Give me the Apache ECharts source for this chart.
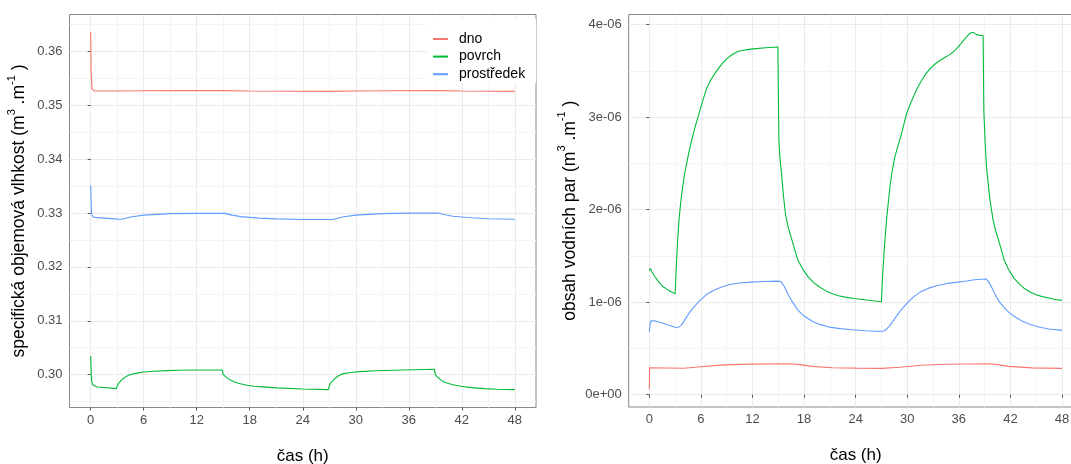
<!DOCTYPE html>
<html><head><meta charset="utf-8">
<script src="https://cdn.jsdelivr.net/npm/echarts@6/dist/echarts.min.js"></script>
<style>html,body{margin:0;padding:0;background:#fff}#c{width:1071px;height:464px}</style>
</head><body><div id="c"></div>
<script>
// ---- data ----
const seriesNames = ['dno', 'povrch', 'prostředek'];
const xTicks = [0, 6, 12, 18, 24, 30, 36, 42, 48];
const xMinor = [3, 9, 15, 21, 27, 33, 39, 45];
const leftYTicks = [0.30, 0.31, 0.32, 0.33, 0.34, 0.35, 0.36];
const leftYMinor = [0.295, 0.305, 0.315, 0.325, 0.335, 0.345, 0.355, 0.365];
const rightYTicks = [0, 1e-6, 2e-6, 3e-6, 4e-6];
const rightYMinor = [0.5e-6, 1.5e-6, 2.5e-6, 3.5e-6];

// specifická objemová vlhkost [čas h, m3/m3]
const vlhkostDno = [[0,0.3635],[0.05,0.3560],[0.15,0.3530],[0.4,0.35262],[3,0.35262],[6,0.35266],[10,0.35270],[15,0.35270],[18,0.35262],[22,0.35258],[27,0.35256],[30,0.35262],[34,0.35268],[39,0.35270],[42,0.35262],[45,0.35258],[48,0.35256]];
const vlhkostPovrch = [[0,0.30347],[0.05,0.3005],[0.1,0.2990],[0.2,0.2982],[0.35,0.29785],[0.7,0.29772],[1.5,0.29762],[2.9,0.29742],[3.0,0.29790],[3.15,0.29840],[3.3,0.29870],[3.6,0.29920],[4.0,0.29965],[4.5,0.30002],[5.2,0.30030],[6,0.30050],[7.2,0.30065],[8.6,0.30076],[10,0.30083],[11.6,0.30087],[14.9,0.30088],[15.0,0.30000],[15.2,0.29968],[15.4,0.29945],[15.8,0.29900],[16.2,0.29870],[16.7,0.29840],[17.7,0.29803],[18.5,0.29787],[19.5,0.29775],[21.1,0.29755],[24,0.29735],[26.9,0.29723],[27.0,0.29790],[27.15,0.29845],[27.3,0.29880],[27.7,0.29940],[28.1,0.29985],[28.6,0.30020],[29.4,0.30042],[30.5,0.30057],[32.2,0.30072],[34.3,0.30082],[36.5,0.30092],[38.9,0.30100],[39.0,0.30000],[39.2,0.29962],[39.4,0.29930],[39.7,0.29895],[40,0.29865],[40.5,0.29838],[41,0.29815],[41.9,0.29785],[43,0.29760],[44.5,0.29742],[46,0.29730],[48,0.29723]];
const vlhkostProstredek = [[0,0.33508],[0.08,0.3300],[0.25,0.32925],[0.6,0.32918],[3,0.32885],[3.5,0.32884],[4.5,0.32925],[6,0.32960],[9,0.32988],[12,0.32993],[15.2,0.32993],[16,0.32960],[17,0.32932],[19,0.32905],[21,0.32890],[24,0.32880],[27,0.32878],[27.5,0.32882],[28.5,0.32925],[30,0.32960],[33,0.32988],[36,0.32998],[39.3,0.33000],[40,0.32972],[41,0.32940],[43,0.32910],[45,0.32893],[48,0.32883]];

// obsah vodních par [čas h, m3/m3]
const parDno = [[0,0.06e-6],[0.03,0.292e-6],[2,0.289e-6],[4,0.286e-6],[6,0.302e-6],[8.6,0.322e-6],[11.8,0.331e-6],[16.5,0.335e-6],[17.5,0.325e-6],[18.9,0.306e-6],[21.3,0.292e-6],[24,0.287e-6],[27,0.285e-6],[29.1,0.297e-6],[31.5,0.318e-6],[34.7,0.330e-6],[39.4,0.335e-6],[40.5,0.325e-6],[41.8,0.306e-6],[44.5,0.290e-6],[48,0.285e-6]];
const parPovrch = [[0,1.34e-6],[0.1,1.365e-6],[0.3,1.33e-6],[0.6,1.28e-6],[1.0,1.23e-6],[1.5,1.175e-6],[2.2,1.13e-6],[2.6,1.11e-6],[3.0,1.09e-6],[3.15,1.40e-6],[3.3,1.68e-6],[3.45,1.89e-6],[3.65,2.08e-6],[3.9,2.26e-6],[4.1,2.39e-6],[4.34,2.50e-6],[4.6,2.62e-6],[4.92,2.75e-6],[5.4,2.92e-6],[5.88,3.07e-6],[6.25,3.19e-6],[6.66,3.31e-6],[7.2,3.41e-6],[7.83,3.50e-6],[8.4,3.57e-6],[8.99,3.63e-6],[9.6,3.675e-6],[10.34,3.712e-6],[11.2,3.727e-6],[12.08,3.738e-6],[13.5,3.75e-6],[14.95,3.759e-6],[15.07,2.75e-6],[15.2,2.55e-6],[15.38,2.39e-6],[15.6,2.15e-6],[15.84,1.95e-6],[16.15,1.81e-6],[16.5,1.70e-6],[16.9,1.57e-6],[17.3,1.45e-6],[17.9,1.35e-6],[18.5,1.271e-6],[19.1,1.215e-6],[19.7,1.17e-6],[20.5,1.125e-6],[21.3,1.091e-6],[22.0,1.07e-6],[22.8,1.055e-6],[23.8,1.04e-6],[24.8,1.03e-6],[26,1.015e-6],[27,1.005e-6],[27.15,1.31e-6],[27.35,1.6e-6],[27.59,1.886e-6],[27.98,2.245e-6],[28.25,2.42e-6],[28.56,2.568e-6],[28.95,2.70e-6],[29.34,2.821e-6],[29.92,3.037e-6],[30.3,3.13e-6],[30.69,3.216e-6],[31.15,3.31e-6],[31.66,3.396e-6],[32.1,3.46e-6],[32.63,3.522e-6],[33.2,3.572e-6],[33.79,3.612e-6],[34.4,3.647e-6],[34.95,3.676e-6],[35.35,3.705e-6],[35.73,3.738e-6],[36.2,3.79e-6],[36.7,3.846e-6],[37.28,3.906e-6],[37.67,3.917e-6],[38.06,3.892e-6],[38.83,3.881e-6],[38.91,3.072e-6],[39.05,2.75e-6],[39.22,2.46e-6],[39.6,2.12e-6],[39.99,1.886e-6],[40.3,1.77e-6],[40.6,1.68e-6],[41.0,1.55e-6],[41.3,1.45e-6],[41.8,1.35e-6],[42.4,1.26e-6],[43.0,1.20e-6],[43.6,1.15e-6],[44.3,1.11e-6],[45,1.08e-6],[45.7,1.06e-6],[46.5,1.045e-6],[47.2,1.03e-6],[48,1.02e-6]];
const parProstredek = [[0,0.677e-6],[0.1,0.77e-6],[0.2,0.80e-6],[0.35,0.805e-6],[0.8,0.795e-6],[1.5,0.775e-6],[2.3,0.75e-6],[3.1,0.726e-6],[3.4,0.73e-6],[3.7,0.75e-6],[4.2,0.82e-6],[4.7,0.893e-6],[5.3,0.96e-6],[5.9,1.019e-6],[6.6,1.08e-6],[7.45,1.127e-6],[8.4,1.165e-6],[9.4,1.192e-6],[10.5,1.208e-6],[11.8,1.217e-6],[13.3,1.224e-6],[14.95,1.228e-6],[15.3,1.222e-6],[15.7,1.17e-6],[16.1,1.091e-6],[16.7,0.995e-6],[17.3,0.911e-6],[18.0,0.85e-6],[18.9,0.796e-6],[19.8,0.76e-6],[20.9,0.731e-6],[22.2,0.714e-6],[23.6,0.702e-6],[25.2,0.692e-6],[26.8,0.684e-6],[27.2,0.688e-6],[27.5,0.70e-6],[28.0,0.75e-6],[28.4,0.803e-6],[29.1,0.895e-6],[29.9,0.983e-6],[30.7,1.055e-6],[31.5,1.109e-6],[32.5,1.152e-6],[33.5,1.181e-6],[34.7,1.203e-6],[35.9,1.217e-6],[36.9,1.23e-6],[37.8,1.242e-6],[38.6,1.248e-6],[39.2,1.249e-6],[39.5,1.215e-6],[39.8,1.163e-6],[40.2,1.09e-6],[40.6,1.019e-6],[41.2,0.95e-6],[41.8,0.893e-6],[42.5,0.843e-6],[43.35,0.796e-6],[44.3,0.76e-6],[45.3,0.731e-6],[46.5,0.71e-6],[48,0.695e-6]];

const colors = {dno:'#F8766D', povrch:'#00BA38', 'prostředek':'#619CFF'};
const FONT = "'Liberation Sans', Arial, sans-serif";

function expand(arrs) {
  let lo = Infinity, hi = -Infinity;
  arrs.forEach(a => a.forEach(p => { lo = Math.min(lo, p[1]); hi = Math.max(hi, p[1]); }));
  const d = (hi - lo) * 0.05;
  return [lo - d, hi + d];
}
const xr = [-2.4, 50.4];
const ly = expand([vlhkostDno, vlhkostPovrch, vlhkostProstredek]);
const ry = expand([parDno, parPovrch, parProstredek]);

function sci(v) {
  if (Math.abs(v) < 1e-15) return '0e+00';
  const e = Math.floor(Math.log10(Math.abs(v)) + 1e-9);
  const m = Math.round(v / Math.pow(10, e));
  return m + 'e' + (e < 0 ? '-' : '+') + String(Math.abs(e)).padStart(2, '0');
}

const tickLabel = {fontSize: 13, color: '#4D4D4D', fontFamily: FONT};
const majorLine = {show: true, lineStyle: {color: '#EBEBEB', width: 1.1}};
const minorLine = {show: true, lineStyle: {color: '#F4F4F4', width: 1}};

function xMajor(gi) {
  return {type:'value', gridIndex:gi, position:'bottom', offset:0, min:xr[0], max:xr[1], axisLine:{show:false},
    axisTick:{show:true, length:3, customValues:xTicks, lineStyle:{color:'#555'}},
    axisLabel:{show:true, margin:6, customValues:xTicks, ...tickLabel},
    splitLine: majorLine,
    name:'čas (h)', nameLocation:'middle', nameGap:40,
    nameTextStyle:{fontSize:17, color:'#000', fontFamily:FONT}};
}
function xMinorAxis(gi) {
  return {type:'value', gridIndex:gi, position:'bottom', offset:0, min:xr[0], max:xr[1], axisLine:{show:false},
    axisTick:{show:false, customValues:xMinor}, axisLabel:{show:false}, splitLine: minorLine};
}
function yMajor(gi, r, ticks, fmt, title, gap) {
  return {type:'value', gridIndex:gi, position:'left', offset:0, min:r[0], max:r[1], axisLine:{show:false},
    axisTick:{show:true, length:3, customValues:ticks, lineStyle:{color:'#555'}},
    axisLabel:{show:true, margin:7, customValues:ticks, formatter:fmt, ...tickLabel},
    splitLine: majorLine,
    name:'{t|' + title + ' (m}{s|3}{t| .m}{s|-1}{t| )}', nameLocation:'middle', nameGap:gap, nameRotate:90,
    nameTextStyle:{fontFamily:FONT, rich:{
      t:{fontSize:17.5, color:'#000', fontFamily:FONT, lineHeight:22, verticalAlign:'bottom'},
      s:{fontSize:11, color:'#000', fontFamily:FONT, lineHeight:22, verticalAlign:'top'}}}};
}
function yMinorAxis(gi, r, ticks) {
  return {type:'value', gridIndex:gi, position:'left', offset:0, min:r[0], max:r[1], axisLine:{show:false},
    axisTick:{show:false, customValues:ticks}, axisLabel:{show:false}, splitLine: minorLine};
}

function line(name, data, xi, yi) {
  return {type:'line', name, data, xAxisIndex:xi, yAxisIndex:yi, symbol:'none', showSymbol:false,
    lineStyle:{color:colors[name], width:1.1}, itemStyle:{color:colors[name]}, animation:false, z:3};
}

const chart = echarts.init(document.getElementById('c'), null, {renderer:'canvas'});
chart.setOption({
  animation:false,
  backgroundColor:'#fff',
  grid:[
    {left:69.5, right:535, top:14.5, bottom:56.5, show:true, borderColor:'#888', borderWidth:1, backgroundColor:'#fff', containLabel:false, outerBoundsMode:'none'},
    {left:628.7, right:-11.6, top:14.5, bottom:57, show:true, borderColor:'#888', borderWidth:1, backgroundColor:'#fff', containLabel:false, outerBoundsMode:'none'}
  ],
  xAxis:[xMinorAxis(0), xMajor(0), xMinorAxis(1), xMajor(1)],
  yAxis:[
    yMinorAxis(0, ly, leftYMinor),
    yMajor(0, ly, leftYTicks, v => v.toFixed(2), 'specifická objemová vlhkost', 41),
    yMinorAxis(1, ry, rightYMinor),
    yMajor(1, ry, rightYTicks, sci, 'obsah vodních par', 50)
  ],
  legend:{data:seriesNames, orient:'vertical', left:427, top:19, backgroundColor:'#fff',
    padding:[12,11,1,6], itemWidth:15, itemHeight:2, itemGap:1.6, icon:'rect',
    textStyle:{fontSize:14, color:'#000', fontFamily:FONT, lineHeight:16, padding:[0,0,0,6]}},
  series:[
    line('dno', vlhkostDno, 1, 1),
    line('povrch', vlhkostPovrch, 1, 1),
    line('prostředek', vlhkostProstredek, 1, 1),
    line('dno', parDno, 3, 3),
    line('povrch', parPovrch, 3, 3),
    line('prostředek', parProstredek, 3, 3)
  ]
});
</script></body></html>
